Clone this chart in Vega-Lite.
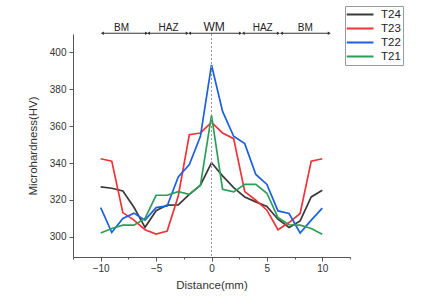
{
  "$schema": "https://vega.github.io/schema/vega-lite/v6.json",
  "width": 277,
  "height": 223,
  "autosize": {"type": "none"},
  "padding": {"left": 73, "top": 34, "right": 98, "bottom": 51},
  "background": "white",
  "config": {
    "view": {"stroke": null},
    "font": "Liberation Sans",
    "axis": {"grid": false, "domainColor": "#555", "tickColor": "#555", "labelColor": "#333", "titleColor": "#333", "labelFont": "Liberation Sans", "titleFont": "Liberation Sans", "titleFontWeight": "normal", "labelFontSize": 10, "titleFontSize": 11.5, "tickSize": 4}
  },
  "datasets": {
    "hv": [
      {"x": -10, "T24": 327.0, "T23": 342.3, "T22": 315.8, "T21": 302.0},
      {"x": -9, "T24": 326.3, "T23": 341.0, "T22": 302.3, "T21": 304.5},
      {"x": -8, "T24": 324.8, "T23": 313.1, "T22": 309.9, "T21": 306.3},
      {"x": -7, "T24": 316.0, "T23": 309.0, "T22": 312.8, "T21": 306.3},
      {"x": -6, "T24": 305.1, "T23": 303.8, "T22": 309.0, "T21": 309.9},
      {"x": -5, "T24": 314.1, "T23": 301.4, "T22": 315.8, "T21": 322.5},
      {"x": -4, "T24": 317.2, "T23": 303.1, "T22": 316.7, "T21": 322.5},
      {"x": -3, "T24": 317.3, "T23": 322.1, "T22": 332.4, "T21": 324.5},
      {"x": -2, "T24": 323.0, "T23": 355.4, "T22": 339.2, "T21": 323.0},
      {"x": -1, "T24": 328.0, "T23": 356.3, "T22": 354.5, "T21": 327.9},
      {"x": 0, "T24": 340.1, "T23": 362.0, "T22": 393.2, "T21": 365.8},
      {"x": 1, "T24": 333.0, "T23": 356.3, "T22": 368.0, "T21": 325.7},
      {"x": 2, "T24": 326.6, "T23": 353.2, "T22": 354.5, "T21": 324.3},
      {"x": 3, "T24": 321.6, "T23": 324.5, "T22": 350.5, "T21": 328.4},
      {"x": 4, "T24": 318.9, "T23": 319.8, "T22": 333.8, "T21": 328.4},
      {"x": 5, "T24": 316.4, "T23": 314.4, "T22": 328.4, "T21": 323.6},
      {"x": 6, "T24": 309.5, "T23": 303.8, "T22": 314.0, "T21": 310.4},
      {"x": 7, "T24": 305.0, "T23": 307.7, "T22": 312.6, "T21": 306.5},
      {"x": 8, "T24": 308.6, "T23": 312.6, "T22": 302.0, "T21": 306.3},
      {"x": 9, "T24": 321.6, "T23": 341.0, "T22": 309.0, "T21": 304.5},
      {"x": 10, "T24": 325.2, "T23": 342.3, "T22": 315.5, "T21": 301.4}
    ],
    "zones": [
      {"label": "BM", "start": -9.85, "end": -5.86, "labelX": -8.12, "y": 410.4, "ty": 411.4},
      {"label": "HAZ", "start": -5.68, "end": -2.19, "labelX": -3.87, "y": 410.4, "ty": 411.4},
      {"label": "WM", "start": -1.98, "end": 2.61, "labelX": 0.24, "y": 410.4, "ty": 411.4},
      {"label": "HAZ", "start": 2.86, "end": 6.04, "labelX": 4.62, "y": 410.4, "ty": 411.4},
      {"label": "BM", "start": 6.31, "end": 10.63, "labelX": 8.47, "y": 410.4, "ty": 411.4}
    ],
    "center": [{"x": 0}]
  },
  "resolve": {"axis": {"x": "independent"}},
  "layer": [
    {
      "data": {"name": "hv"},
      "transform": [{"fold": ["T24", "T23", "T22", "T21"], "as": ["series", "hv"]}],
      "mark": {"type": "line", "strokeWidth": 1.7},
      "encoding": {
        "x": {"field": "x", "type": "quantitative", "title": "Distance(mm)",
          "scale": {"domain": [-12.5, 12.5], "nice": false, "zero": false},
          "axis": {"orient": "bottom", "values": [-10, -5, 0, 5, 10], "labelPadding": 2, "titleY": 22, "labelOverlap": false}},
        "y": {"field": "hv", "type": "quantitative", "title": "Microhardness(HV)",
          "scale": {"domain": [289, 410], "nice": false, "zero": false},
          "axis": {"values": [300, 310, 320, 330, 340, 350, 360, 370, 380, 390, 400, 410],
            "labelExpr": "datum.value % 20 === 0 ? datum.label : ''",
            "tickDash": {"condition": {"test": "datum.value % 20 !== 0", "value": [2, 10]}, "value": [10, 0]},
            "labelPadding": 3, "titleX": -35, "labelOverlap": false}},
        "color": {"field": "series", "type": "nominal",
          "scale": {"domain": ["T24", "T23", "T22", "T21"], "range": ["#3a3a3a", "#f03338", "#1b60e0", "#2c9e58"]},
          "legend": {"title": null, "orient": "none", "legendX": 272, "legendY": -28,
            "symbolType": "M-2,0H2", "symbolSize": 182, "symbolStrokeWidth": 2, "symbolFillColor": "transparent", "symbolOffset": 5.5,
            "labelFontSize": 11.5, "labelColor": "#222", "labelOffset": 13, "clipHeight": 14,
            "strokeColor": "#999", "fillColor": "white", "padding": 1.5, "rowPadding": 0, "offset": 0}},
        "order": {"field": "x", "type": "quantitative"}
      }
    },
    {
      "data": {"name": "center"},
      "mark": {"type": "rule", "color": "#999", "strokeDash": [2, 2], "strokeWidth": 1},
      "encoding": {
        "x": {"field": "x", "type": "quantitative",
          "axis": {"orient": "bottom", "values": [-12.5, -7.5, -2.5, 2.5, 7.5, 12.5], "labels": false, "domain": false, "tickSize": 2, "title": null}}
      }
    },
    {
      "data": {"name": "zones"},
      "mark": {"type": "rule", "color": "#333", "strokeWidth": 1},
      "encoding": {
        "x": {"field": "start", "type": "quantitative", "axis": null},
        "x2": {"field": "end"},
        "y": {"field": "y", "type": "quantitative"}
      }
    },
    {
      "data": {"name": "zones"},
      "mark": {"type": "point", "shape": "triangle-left", "filled": true, "color": "#333", "size": 12, "opacity": 1},
      "encoding": {
        "x": {"field": "start", "type": "quantitative", "axis": null},
        "y": {"field": "y", "type": "quantitative"}
      }
    },
    {
      "data": {"name": "zones"},
      "mark": {"type": "point", "shape": "triangle-right", "filled": true, "color": "#333", "size": 12, "opacity": 1},
      "encoding": {
        "x": {"field": "end", "type": "quantitative", "axis": null},
        "y": {"field": "y", "type": "quantitative"}
      }
    },
    {
      "data": {"name": "zones"},
      "mark": {"type": "text", "baseline": "alphabetic", "align": "center", "color": "#222", "font": "Liberation Sans"},
      "encoding": {
        "x": {"field": "labelX", "type": "quantitative", "axis": null},
        "y": {"field": "ty", "type": "quantitative"},
        "text": {"field": "label"},
        "size": {"condition": {"test": "datum.label === 'WM'", "value": 12}, "value": 10}
      }
    }
  ]
}
